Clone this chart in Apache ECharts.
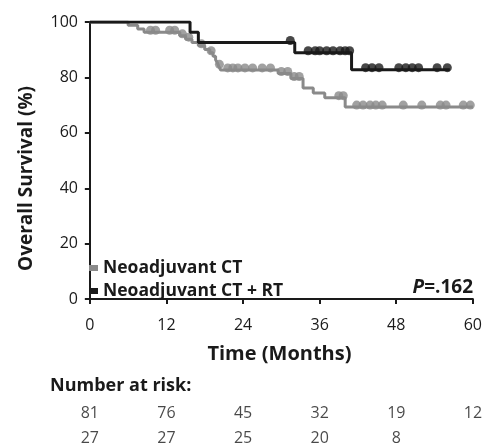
<!DOCTYPE html>
<html>
<head>
<meta charset="utf-8">
<script src="https://cdn.jsdelivr.net/npm/echarts@6/dist/echarts.min.js"></script>
<style>
  html, body { margin: 0; padding: 0; background: #fff; }
  #chart { width: 485px; height: 445px; }
</style>
</head>
<body>
<div id="chart"></div>
<script>
// tick labels
const xTicks = [0, 12, 24, 36, 48, 60];
const yTicks = [0, 20, 40, 60, 80, 100];

// Kaplan-Meier steps [month, survival %]
const ctSteps = [
  [0, 100], [6, 98.8], [7.5, 97.5], [8.5, 96.3], [14.1, 95.0], [15.0, 93.8],
  [16.0, 92.6], [17.0, 91.4], [18.0, 90.1], [18.8, 88.9], [19.3, 87.6],
  [19.7, 86.4], [20.0, 85.2], [20.2, 84.0], [20.5, 82.7], [29.5, 81.4],
  [31.5, 79.6], [33.4, 76.2], [35.0, 74.4], [36.8, 72.7], [40.0, 69.3], [60, 69.3]
];
const ctrtSteps = [
  [0, 100], [15.7, 96.3], [17.0, 92.6], [32.1, 88.9], [41.0, 82.8], [56.4, 82.8]
];

// censored patients
const ctCensored = [
  [9.5, 96.3], [10.3, 96.3], [12.5, 96.3], [13.3, 96.3],
  [14.5, 95.0], [15.5, 93.8], [17.5, 91.4], [19.0, 88.9], [20.3, 84.0],
  [21.6, 82.7], [22.4, 82.7], [23.2, 82.7], [24.3, 82.7], [25.5, 82.7], [27.0, 82.7], [28.3, 82.7],
  [30.0, 81.4], [31.0, 81.4], [32.0, 79.6], [32.8, 79.6],
  [39.0, 72.7], [39.7, 72.7],
  [41.8, 69.3], [42.8, 69.3], [43.9, 69.3], [44.8, 69.3], [45.8, 69.3], [49.1, 69.3],
  [52.0, 69.3], [54.9, 69.3], [55.8, 69.3], [58.5, 69.3], [59.6, 69.3]
];
const ctrtCensored = [
  [31.4, 92.6],
  [34.2, 88.9], [35.3, 88.9], [36.0, 88.9], [37.1, 88.9], [38.1, 88.9], [39.2, 88.9], [40.0, 88.9], [40.7, 88.9],
  [43.2, 82.8], [44.2, 82.8], [45.3, 82.8], [48.4, 82.8], [49.5, 82.8], [50.5, 82.8], [51.5, 82.8],
  [54.4, 82.8], [56.0, 82.8]
];

// number at risk (row 0: CT, row 1: CT + RT)
const riskRows = ['Neoadjuvant CT', 'Neoadjuvant CT + RT'];
const riskCT = [81, 76, 45, 32, 19, 12];
const riskCTRT = [27, 27, 25, 20, 8];

const GRAY = '#8a8a8a';
const BLACK = '#1a1a1a';
const FONT = 'Open Sans';

const chart = echarts.init(document.getElementById('chart'));

const riskData = [];
riskCT.forEach((n, i) => riskData.push([xTicks[i], 0, n]));
riskCTRT.forEach((n, i) => riskData.push([xTicks[i], 1, n]));

const option = {
  animation: false,
  textStyle: { fontFamily: FONT },
  grid: [
    { left: 86, right: 12, top: 22, bottom: 142 },
    { left: 86, right: 12, top: 400, bottom: 0 }
  ],
  legend: {
    data: riskRows,
    orient: 'vertical',
    left: 84,
    top: 254,
    itemWidth: 9,
    itemHeight: 6,
    itemGap: 5,
    icon: 'rect',
    textStyle: { fontFamily: FONT, fontWeight: 'bold', fontSize: 17.5, color: BLACK, lineHeight: 18 }
  },
  xAxis: [
    {
      gridIndex: 0,
      type: 'value',
      min: -0.6,
      max: 60,
      name: 'Time (Months)',
      nameLocation: 'middle',
      nameGap: 41,
      nameTextStyle: { fontFamily: FONT, fontWeight: 'bold', fontSize: 20, color: BLACK },
      axisLine: { show: true, lineStyle: { color: BLACK, width: 2 } },
      axisTick: { show: true, length: 5, lineStyle: { color: BLACK, width: 2 }, customValues: xTicks },
      axisLabel: { customValues: xTicks, fontSize: 16, color: BLACK, margin: 14 },
      splitLine: { show: false }
    },
    {
      gridIndex: 1,
      type: 'value',
      min: -0.6,
      max: 60,
      show: false
    }
  ],
  yAxis: [
    {
      gridIndex: 0,
      type: 'value',
      min: -1.4,
      max: 100,
      name: 'Overall Survival (%)',
      nameLocation: 'middle',
      nameGap: 50,
      nameTextStyle: { fontFamily: FONT, fontWeight: 'bold', fontSize: 19, color: BLACK, padding: [0, 32, 0, 0] },
      axisLine: { show: true, lineStyle: { color: BLACK, width: 2 } },
      axisTick: { show: true, length: 5, lineStyle: { color: BLACK, width: 2 }, customValues: yTicks },
      axisLabel: { customValues: yTicks, fontSize: 16, color: BLACK, margin: 8 },
      splitLine: { show: false }
    },
    {
      gridIndex: 1,
      type: 'value',
      min: -0.55,
      max: 1.25,
      inverse: true,
      show: false
    }
  ],
  graphic: [
    {
      type: 'text',
      left: 50,
      top: 377,
      style: { text: 'Number at risk:', font: 'bold 18px "Open Sans"', fill: BLACK }
    },
    {
      type: 'text',
      right: 12,
      top: 278,
      style: {
        text: '{i|P}{n|=.162}',
        rich: {
          i: { font: 'italic bold 19px "Open Sans"', fill: BLACK },
          n: { font: 'bold 19px "Open Sans"', fill: BLACK }
        }
      }
    }
  ],
  series: [
    {
      name: riskRows[0],
      type: 'line',
      step: 'end',
      data: ctSteps,
      showSymbol: false,
      lineStyle: { color: GRAY, width: 3 },
      itemStyle: { color: GRAY },
      z: 2
    },
    {
      name: 'ct-censored',
      type: 'scatter',
      data: ctCensored,
      symbolSize: 9,
      symbolOffset: [0, -2],
      itemStyle: { color: GRAY },
      z: 2
    },
    {
      name: riskRows[1],
      type: 'line',
      step: 'end',
      data: ctrtSteps,
      showSymbol: false,
      lineStyle: { color: BLACK, width: 3 },
      itemStyle: { color: BLACK },
      z: 3
    },
    {
      name: 'ctrt-censored',
      type: 'scatter',
      data: ctrtCensored,
      symbolSize: 9,
      symbolOffset: [0, -2],
      itemStyle: { color: BLACK },
      z: 3
    },
    {
      name: 'risk',
      type: 'scatter',
      xAxisIndex: 1,
      yAxisIndex: 1,
      data: riskData,
      symbolSize: 0,
      label: {
        show: true,
        position: 'inside',
        formatter: p => String(p.value[2]),
        fontFamily: FONT,
        fontSize: 16,
        color: BLACK
      }
    }
  ]
};

chart.setOption(option);
</script>
</body>
</html>
